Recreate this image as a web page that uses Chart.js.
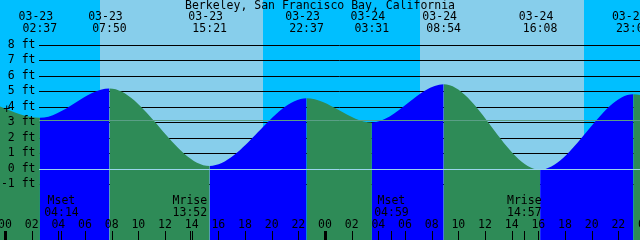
<!DOCTYPE html>
<html><head><meta charset="utf-8">
<script src="https://cdn.jsdelivr.net/npm/chart.js@4/dist/chart.umd.min.js"></script>
<style>html,body{margin:0;padding:0;background:#fff;overflow:hidden}#wrap{width:640px;height:240px;position:relative}</style>
</head><body><div id="wrap"><canvas id="c" width="640" height="240"></canvas></div>
<script>
// ---- data ----
const title = 'Berkeley, San Francisco Bay, California';
const tideTimes   = ['03-22 14:30','03-22 21:25','03-23 02:37','03-23 07:50','03-23 15:21','03-23 22:37','03-24 03:31','03-24 08:54','03-24 16:08','03-24 23:07','03-25 04:20','03-25 09:50'];
const tideHeights = [0.6, 4.5, 3.3, 5.2, 0.2, 4.56, 3.0, 5.46, -0.05, 4.82, 2.9, 5.6];
const tideLabelDates = ['03-23','03-23','03-23','03-23','03-24','03-24','03-24','03-24'];
const tideLabelTimes = ['02:37','07:50','15:21','22:37','03:31','08:54','16:08','23:07'];
const sunriseTimes = ['03-23 07:07','03-24 07:07'];
const sunsetTimes  = ['03-23 19:22','03-24 19:24'];
const moonNames = ['Mset','Mrise','Mset','Mrise'];
const moonTimes = ['03-23 04:14','03-23 13:52','03-24 04:59','03-24 14:57'];
const levelValues = [-1,0,1,2,3,4,5,6,7,8];
const levelLabels = ['-1 ft','0 ft','1 ft','2 ft','3 ft','4 ft','5 ft','6 ft','7 ft','8 ft'];
const hourTickValues = [0,2,4,6,8,10,12,14,16,18,20,22,24,26,28,30,32,34,36,38,40,42,44,46,48];
const hourTickLabels = ['00','02','04','06','08','10','12','14','16','18','20','22','00','02','04','06','08','10','12','14','16','18','20','22','00'];
const meanLevel = 3.14;
const markTime = '03-23 00:08';
const markLevel = 3.82;

// ---- helpers ----
function toHours(s){
  const [md, hm] = s.split(' ');
  const day = parseInt(md.split('-')[1],10);
  const [H,M] = hm.split(':').map(Number);
  return (day-23)*24 + H + M/60;
}
const points = tideTimes.map((t,i)=>({x:toHours(t), y:tideHeights[i]}));

const C = {
  night:'#00BFFF', day:'#87CEEB', rise:'#0000FF', fall:'#2E8B57',
  grid:'#000000', datum:'#9AD4EC', mean:'#5A9F86', text:'#000000'
};
const FONT = '11.5px "DejaVu Sans Mono", "Liberation Mono", monospace';

const deco = {
  id:'deco',
  beforeDatasetsDraw(chart){
    const {ctx, scales:{x:xs, y:ys}} = chart;
    ctx.save();
    ctx.fillStyle = C.night;
    ctx.fillRect(0,0,640,240);
    ctx.fillStyle = C.day;
    sunriseTimes.forEach((sr,i)=>{
      const a = xs.getPixelForValue(toHours(sr));
      const b = xs.getPixelForValue(toHours(sunsetTimes[i]));
      ctx.fillRect(Math.round(a),0,Math.round(b)-Math.round(a),240);
    });
    ctx.strokeStyle = C.grid; ctx.lineWidth = 1;
    levelValues.forEach(v=>{
      const y = Math.round(ys.getPixelForValue(v))+0.5;
      ctx.beginPath(); ctx.moveTo(39,y); ctx.lineTo(640,y); ctx.stroke();
    });
    ctx.restore();
  },
  afterDatasetsDraw(chart){
    const {ctx, scales:{x:xs, y:ys}} = chart;
    ctx.save();
    ctx.lineWidth = 1;
    let y0 = Math.round(ys.getPixelForValue(0))+0.5;
    ctx.strokeStyle = C.datum;
    ctx.beginPath(); ctx.moveTo(39,y0); ctx.lineTo(640,y0); ctx.stroke();
    let ym = Math.round(ys.getPixelForValue(meanLevel))+0.5;
    ctx.strokeStyle = C.mean;
    ctx.beginPath(); ctx.moveTo(39,ym); ctx.lineTo(640,ym); ctx.stroke();

    ctx.fillStyle = C.text;
    ctx.font = FONT;
    ctx.textBaseline = 'middle';
    ctx.textAlign = 'center';
    ctx.fillText(title, 320, 6);
    tideLabelTimes.forEach((t,i)=>{
      const px = xs.getPixelForValue(toHours(tideLabelDates[i]+' '+t));
      ctx.fillText(tideLabelDates[i], px-4, 17.5);
      ctx.fillText(t, px, 29.5);
    });
    ctx.textAlign = 'right';
    levelValues.forEach((v,i)=>{
      const y = Math.round(ys.getPixelForValue(v))+0.5;
      ctx.fillText(levelLabels[i], 35.5, y);
    });
    ctx.textAlign = 'center';
    ctx.fillText('+', xs.getPixelForValue(toHours(markTime)), ys.getPixelForValue(markLevel));
    moonTimes.forEach((t,i)=>{
      const px = xs.getPixelForValue(toHours(t));
      ctx.fillText(moonNames[i], px, 201.5);
      ctx.fillText(t.split(' ')[1], px, 213);
    });
    hourTickValues.forEach((h,i)=>{
      const px = xs.getPixelForValue(h);
      ctx.fillText(hourTickLabels[i], px, 225.5);
      if (h % 24 === 0) ctx.fillRect(Math.round(px)-1, 231, 3, 9);
      else ctx.fillRect(Math.round(px), 231, 1, 9);
    });
    moonTimes.forEach(t=>{
      const px = xs.getPixelForValue(toHours(t));
      ctx.fillRect(Math.round(px), 231, 1, 9);
    });
    ctx.restore();
  }
};

new Chart(document.getElementById('c'), {
  type:'line',
  data:{ datasets:[{
    data: points,
    borderWidth: 0,
    pointRadius: 0,
    cubicInterpolationMode: 'monotone',
    fill: 'start',
    backgroundColor: C.fall,
    segment:{
      backgroundColor: ctx => ctx.p1.parsed.y > ctx.p0.parsed.y ? C.rise : C.fall
    }
  }]},
  options:{
    responsive:false, animation:false, devicePixelRatio:1,
    layout:{padding:0},
    plugins:{legend:{display:false}, tooltip:{enabled:false}, title:{display:false}},
    scales:{
      x:{type:'linear', min:-0.375, max:47.625, display:false},
      y:{type:'linear', min:-4.581, max:10.903, display:false}
    }
  },
  plugins:[deco]
});
</script></body></html>
